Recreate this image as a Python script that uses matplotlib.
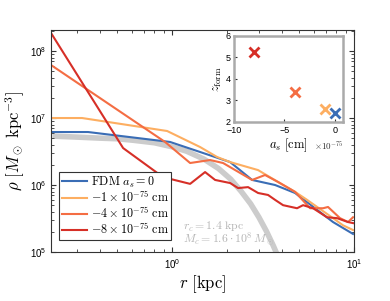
import matplotlib
matplotlib.use("Agg")
import matplotlib.pyplot as plt

plt.rcParams["font.family"] = ["Liberation Sans", "DejaVu Sans"]
plt.rcParams["mathtext.fontset"] = "cm"

# soliton core profile (gray)
r_core = [0.22, 0.3, 0.4, 0.5, 0.6, 0.8, 1.0, 1.2, 1.5, 1.8, 2.1, 2.4, 2.7, 3.0, 3.3, 3.6, 3.9]
rho_core = [5.37e6, 5.19e6, 5.01e6, 4.9e6, 4.68e6, 4.27e6, 3.72e6, 3.2e6, 2.43e6, 1.76e6,
            1.22e6, 8.0e5, 5.25e5, 3.3e5, 2.04e5, 1.24e5, 7.5e4]

r_fdm = [0.216, 0.345, 0.975, 1.425, 2.084, 2.752, 3.681, 4.741, 7.666, 9.87]
rho_fdm = [6.18e6, 6.18e6, 4.39e6, 3.11e6, 2.2e6, 1.19e6, 1.0e6, 7.6e5, 2.8e5, 1.86e5]

r_m1 = [0.216, 0.320, 0.939, 1.425, 1.767, 2.084, 2.969, 3.823, 4.741, 5.519, 7.666, 8.7, 9.87]
rho_m1 = [1.0e7, 1.0e7, 6.4e6, 3.69e6, 2.62e6, 2.2e6, 1.67e6, 1.11e6, 7.9e5, 6.0e5, 3.2e5,
          2.5e5, 2.13e5]

r_m4 = [0.216, 0.915, 1.256, 1.617, 1.906, 2.752, 3.243, 3.823, 4.741, 5.732, 6.755, 7.195,
        8.375, 9.27, 9.87]
rho_m4 = [6.18e7, 4.39e6, 2.13e6, 2.36e6, 2.13e6, 1.19e6, 1.41e6, 1.11e6, 7.9e5, 4.5e5,
          4.5e5, 4.7e5, 3.2e5, 2.8e5, 3.3e5]

r_m8 = [0.216, 0.538, 0.892, 1.256, 1.518, 1.723, 2.084, 2.305, 2.616, 2.969, 3.369, 3.681,
        4.073, 4.862, 5.246, 5.953, 7.106, 8.065, 9.27, 9.87]
rho_m8 = [1.86e8, 3.56e6, 1.31e6, 1.04e6, 1.56e6, 1.19e6, 1.07e6, 9.0e5, 9.3e5, 7.6e5,
          7.1e5, 6.0e5, 5.0e5, 4.5e5, 5.0e5, 4.5e5, 3.3e5, 3.2e5, 2.8e5, 2.7e5]

# inset: formation redshift vs scattering length (a_s in units of 1e-75 cm)
a_s = [0.0, -1.0, -4.0, -8.0]
z_form = [2.43, 2.62, 3.4, 5.25]
inset_xticks = [-10, -5, 0]

colors = ["#3a6db5", "#fdae61", "#f46d43", "#d62f27"]
labels = [r"$\mathrm{FDM}\ a_s = 0$",
          r"$-1\times10^{-75}\ \mathrm{cm}$",
          r"$-4\times10^{-75}\ \mathrm{cm}$",
          r"$-8\times10^{-75}\ \mathrm{cm}$"]

fig = plt.figure(figsize=(3.9, 3.01), dpi=100)
ax = fig.add_axes([0.1308, 0.1628, 0.777, 0.7375])

ax.plot(r_core, rho_core, color="#cccccc", lw=4, solid_capstyle="butt", zorder=1)
series = [(r_fdm, rho_fdm), (r_m1, rho_m1), (r_m4, rho_m4), (r_m8, rho_m8)]
for (rr, rho), c, lab in zip(series, colors, labels):
    ax.plot(rr, rho, color=c, lw=1.5, label=lab, zorder=2)

ax.set_xscale("log")
ax.set_yscale("log")
ax.set_xlim(0.216, 10)
ax.set_ylim(1e5, 2.06e8)
ax.tick_params(which="both", direction="in", top=True, right=True, labelsize=7,
               color="#333333")
ax.tick_params(which="major", length=3.5)
ax.tick_params(which="minor", length=2)
for s in ax.spines.values():
    s.set_color("#333333")
    s.set_linewidth(0.8)

ax.set_xlabel(r"$r\ [\mathrm{kpc}]$", fontsize=12, labelpad=2)
ax.set_ylabel(r"$\rho\ [M_\odot\ \mathrm{kpc}^{-3}]$", fontsize=12, labelpad=2)

ax.text(1.15, 1.14e5, r"$r_c = 1.4\ \mathrm{kpc}$" "\n" r"$M_c = 1.6\cdot10^{8}\,M_\odot$",
        color="#b5b5b5", fontsize=8.5, linespacing=0.72, va="bottom")

leg = ax.legend(loc="lower left", bbox_to_anchor=(0.02, 0.045), fontsize=8.7,
                frameon=True, fancybox=False, edgecolor="#333333", framealpha=1,
                borderpad=0.2, labelspacing=0.02, handlelength=2.1, handletextpad=0.3,
                borderaxespad=0.2)
leg.get_frame().set_linewidth(0.8)

ins = fig.add_axes([0.6, 0.5947, 0.2795, 0.2857])
for a, z, c in zip(a_s, z_form, colors):
    ins.plot(a, z, marker="x", color=c, ms=6.5, mew=2, ls="none")
ins.set_xlim(-10, 0.8)
ins.set_ylim(2, 6)
ins.set_xticks(inset_xticks)
ins.set_yticks([2, 3, 4, 5, 6])
ins.tick_params(direction="in", labelsize=6.5, length=2.5, pad=2.5, color="#333333")
ins.tick_params(axis="x", pad=3)
for s in ins.spines.values():
    s.set_color("#aaaaaa")
    s.set_linewidth(1.8)
ins.set_xlabel(r"$a_s\ [\mathrm{cm}]$", fontsize=9, labelpad=1)
ins.set_ylabel(r"$z_{\mathrm{form}}$", fontsize=9, labelpad=1)
ins.text(1.0, -0.2, r"$\times10^{-75}$", transform=ins.transAxes, fontsize=6.5,
         ha="right", va="top", color="#333333")

fig.savefig("out.png", dpi=100)
